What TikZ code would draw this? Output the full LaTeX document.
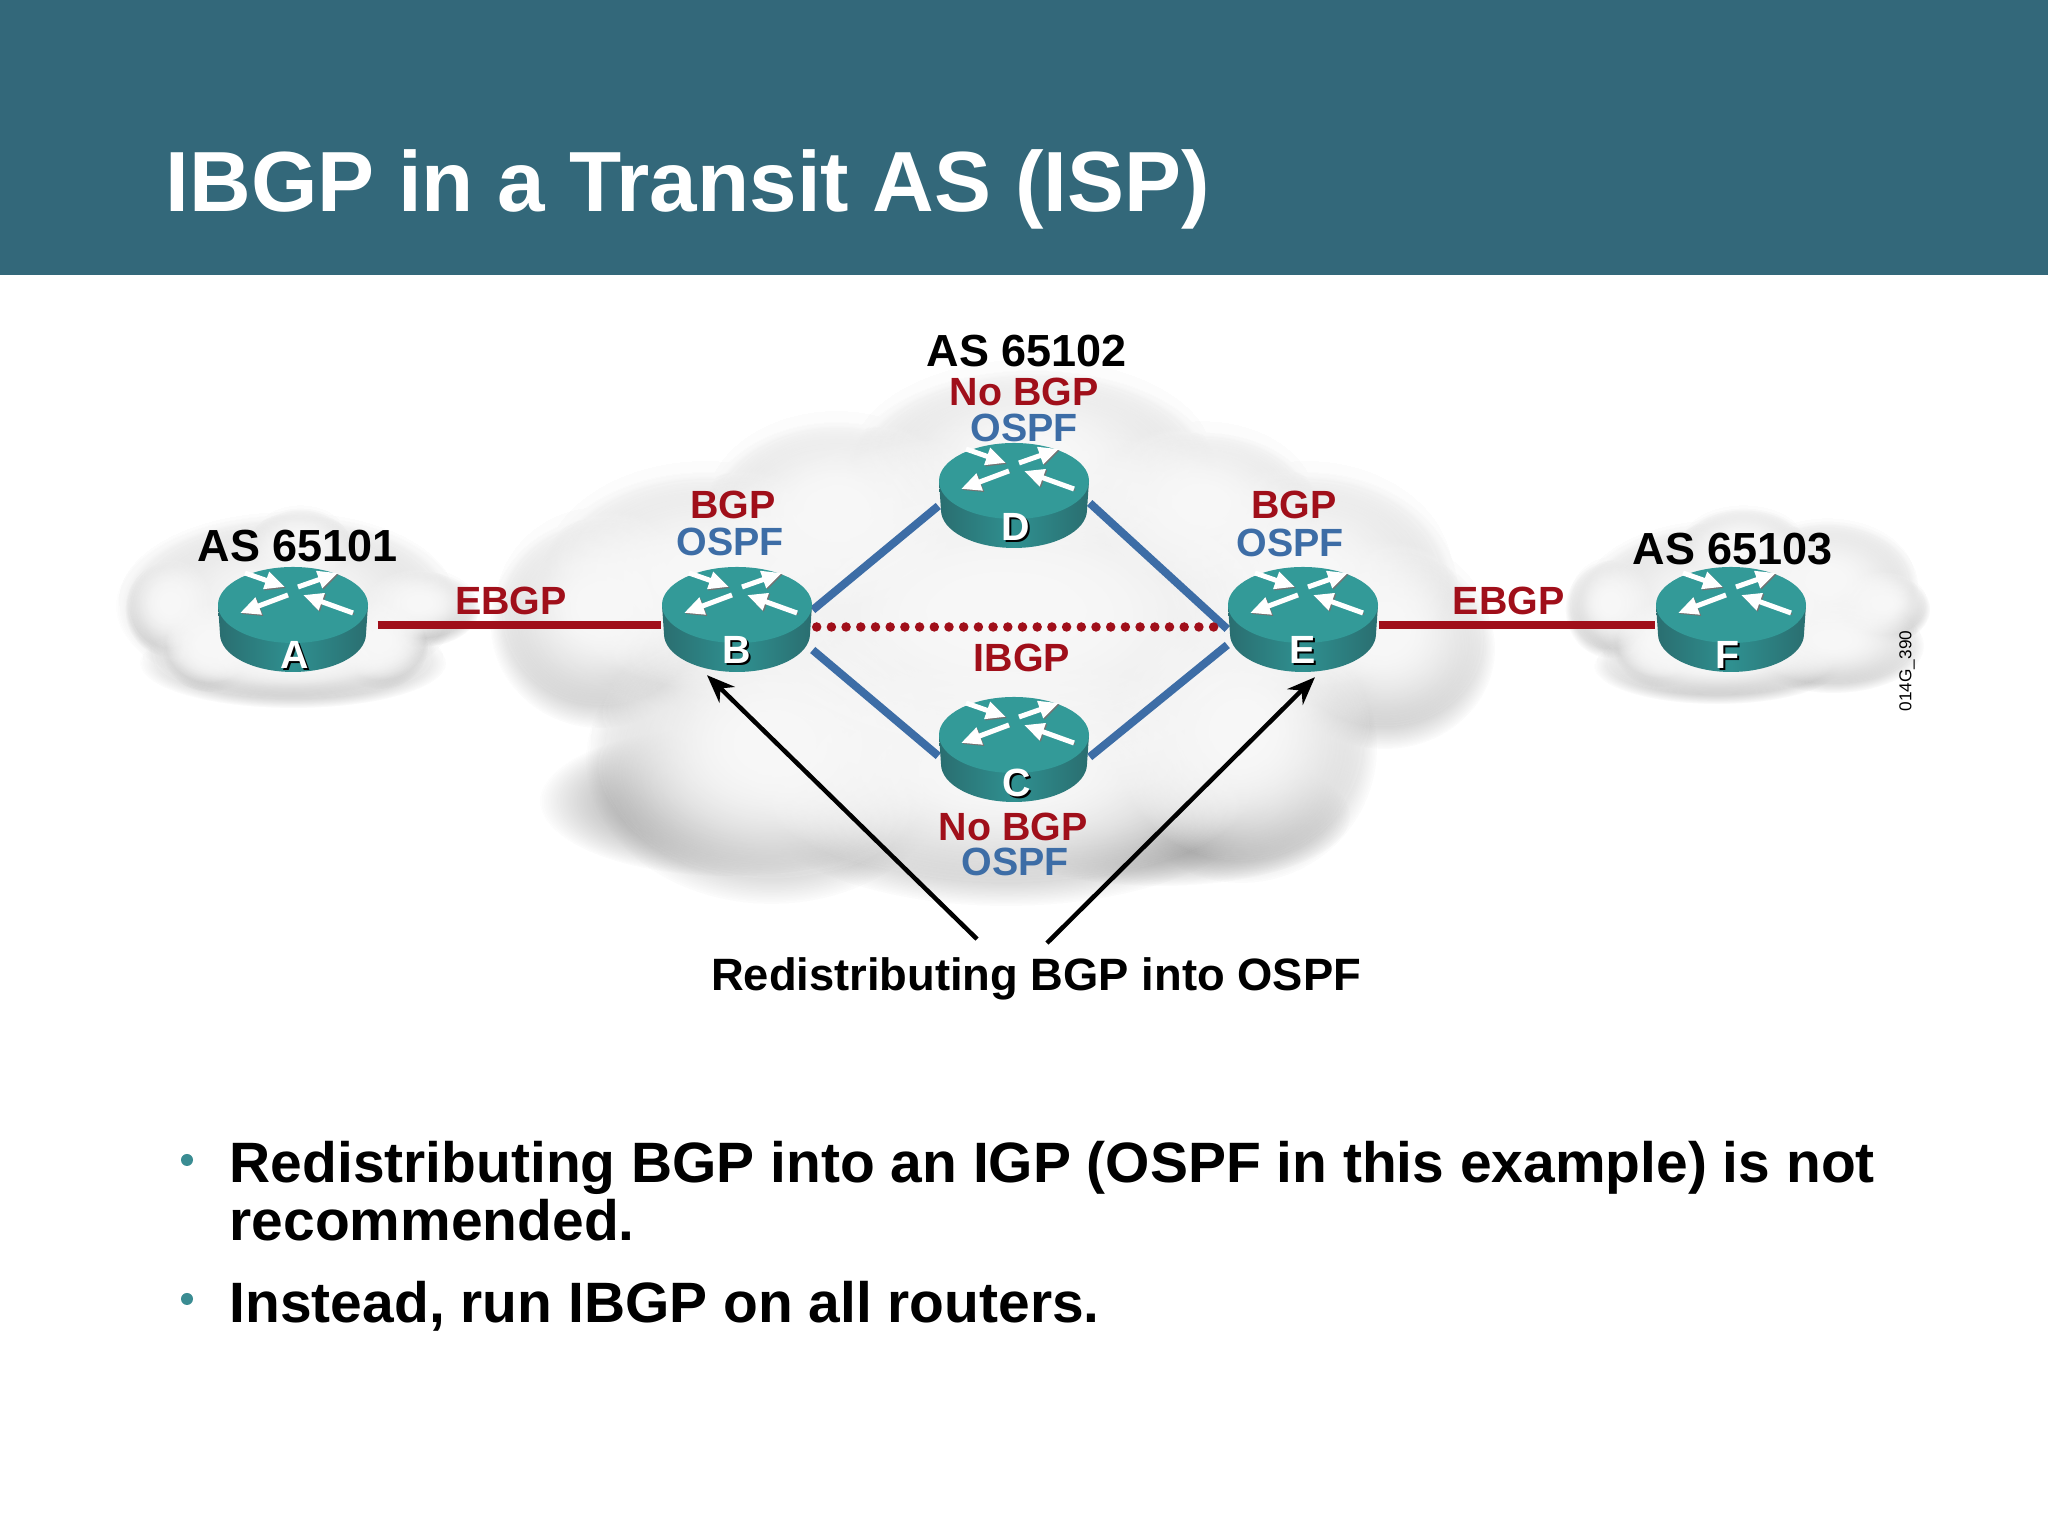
\documentclass[tikz,border=0pt]{standalone}
\usepackage{fontspec}
\setmainfont{Liberation Sans}
\usetikzlibrary{arrows.meta,positioning,fadings,backgrounds,calc}
\definecolor{bandteal}{HTML}{33687A}
\definecolor{bulletteal}{HTML}{3A8C92}
\definecolor{routertop}{HTML}{339A98}
\definecolor{routerside}{HTML}{2F9090}
\definecolor{routeredge}{HTML}{2A6E70}
\definecolor{bgpred}{HTML}{A00F1A}
\definecolor{ospfblue}{HTML}{3D6DA6}
\definecolor{cloudwhite}{HTML}{F8F8F8}
\tikzfading[name=softblob, inner color=transparent!0, outer color=transparent!100]
% x / y / x radius / y radius of the cloud puffs
\newcommand{\bigpuffs}{6.00/9.29/1.05/1.00, 7.05/9.61/1.63/1.14, 8.36/10.27/1.31/.98, 10.32/10.79/1.80/.98,
  12.02/10.33/1.14/.82, 13.06/9.61/1.47/1.14, 13.85/9.03/1.05/.95, 12.41/8.05/1.31/1.31,
  10.06/7.65/2.61/1.14, 7.71/7.92/1.80/1.39, 10.06/9.22/3.76/1.96}
\newcommand{\leftpuffs}{1.70/9.33/.42/.45, 3.00/9.93/.50/.38, 4.20/9.33/.56/.35, 3.80/8.96/.45/.40,
  2.93/8.79/1.50/.42, 2.10/8.93/.45/.40, 2.87/9.36/1.68/.88}
\newcommand{\rightpuffs}{16.10/9.33/.42/.46, 17.43/9.93/.62/.38, 18.83/9.33/.44/.32, 18.27/9.56/.88/.62,
  18.33/8.96/.88/.44, 17.17/8.76/1.20/.35, 16.60/8.96/.44/.38, 17.20/9.36/1.40/.80}
\newcommand{\router}[4]{%
  \pic at (#2) {routerpic};
  \node[routerbox] (#1) at (#2) {};
  \node[routerletter, text=black] (#1shadow) at ([shift={(.015,-.015)}]$(#1.center)+(#4)$) {#3};
  \node[routerletter] (#1letter) at ($(#1.center)+(#4)$) {#3};
}
\begin{document}
\begin{tikzpicture}[
  puff/.style={fill=cloudwhite, path fading=softblob},
  puffshadow/.style={fill=black!38, path fading=softblob},
  routerbox/.style={minimum width=1.5cm, minimum height=1.05cm, inner sep=0pt},
  routerletter/.style={font=\fontsize{11.2}{12}\selectfont\bfseries, text=white, inner sep=0pt},
  routerarrow/.style={white, line width=.05cm, -{Triangle[length=.2cm,width=.17cm]},
    preaction={draw=black!55, transform canvas={shift={(.012,-.012)}}}},
  routerpic/.pic={
    \shade[left color=routeredge, right color=routeredge, middle color=routerside]
      (-.75,.15) -- (-.73,-.14) arc[start angle=180, end angle=360, x radius=.73, y radius=.38]
      -- (.75,.15) -- cycle;
    \fill[routertop] (0,.15) ellipse (.75 and .38);
    \draw[routerarrow] (-.48,.47) -- (-.08,.33);
    \draw[routerarrow] (.05,.33) -- (.45,.47);
    \draw[routerarrow] (-.05,.25) -- (-.53,.07);
    \draw[routerarrow] (.60,.07) -- (.10,.25);
  },
  ebgp/.style={bgpred, line width=.085cm},
  ospflink/.style={ospfblue, line width=.08cm},
  ibgp/.style={bgpred, line width=.095cm, line cap=round, dash pattern=on 0pt off .147cm},
  redist/.style={-{Stealth[length=.28cm,width=.22cm]}, black, line width=.045cm},
  redlabel/.style={font=\fontsize{11.2}{12}\selectfont\bfseries, text=bgpred, inner sep=0pt},
  bluelabel/.style={font=\fontsize{11.2}{12}\selectfont\bfseries, text=ospfblue, inner sep=0pt},
  aslabel/.style={font=\fontsize{12.8}{14}\selectfont\bfseries, inner sep=0pt},
  bulletdot/.style={circle, fill=bulletteal, minimum size=.12cm, inner sep=0pt},
  bullettext/.style={font=\fontsize{16.2}{16.7}\selectfont\bfseries, anchor=base west, align=left, inner sep=0pt},
]
\useasboundingbox (0,0) rectangle (20.48,15.36);

% Clouds
\begin{scope}[on background layer]
\fill[white] (0,0) rectangle (20.48,15.36);
\foreach \n in {1,2} {
  \foreach \x/\y/\a/\b in \bigpuffs {\fill[puffshadow] (\x,\y-.16) ellipse [x radius=\a+.05, y radius=\b+.05];}
  \foreach \x/\y/\a/\b in \leftpuffs {\fill[puffshadow] (\x,\y-.06) ellipse [x radius=\a+.03, y radius=\b+.03];}
  \foreach \x/\y/\a/\b in \rightpuffs {\fill[puffshadow] (\x,\y-.06) ellipse [x radius=\a+.03, y radius=\b+.03];}
  \fill[puffshadow] (7.30,7.35) ellipse (1.90 and .75);
  \fill[puffshadow] (11.60,7.20) ellipse (1.90 and .70);
}
% repeated so that the puffs stay solid up to a soft rim
\foreach \n in {1,2,3} {
  \foreach \x/\y/\a/\b in \bigpuffs {\fill[puff] (\x,\y) ellipse [x radius=\a, y radius=\b];}
  \foreach \x/\y/\a/\b in \leftpuffs {\fill[puff] (\x,\y) ellipse [x radius=\a, y radius=\b];}
  \foreach \x/\y/\a/\b in \rightpuffs {\fill[puff] (\x,\y) ellipse [x radius=\a, y radius=\b];}
}
\end{scope}

% Title band
\fill[bandteal] (0,12.61) rectangle (20.48,15.36);
\node[font=\fontsize{24.3}{26}\selectfont\bfseries, text=white, anchor=base west, inner sep=0pt] (title)
  at (1.65,13.24) {IBGP in a Transit AS (ISP)};

% Routers
\router{A}{2.93,9.16}{A}{.02,-.35}
\router{B}{7.37,9.16}{B}{0,-.30}
\router{D}{10.14,10.40}{D}{.02,-.31}
\router{C}{10.14,7.86}{C}{.03,-.33}
\router{E}{13.03,9.16}{E}{0,-.30}
\router{F}{17.31,9.16}{F}{-.03,-.35}

% Links (behind the routers)
\begin{scope}[on background layer]
\draw[ebgp] ([shift={(.09,-.05)}]A.east) -- ([yshift=-.05cm]B.west)
  node[pos=.47, above=.06cm, redlabel] (ebgpleft) {EBGP};
\draw[ebgp] ([yshift=-.05cm]E.east) -- ([yshift=-.05cm]F.west)
  node[pos=.47, above=.06cm, redlabel] (ebgpright) {EBGP};
\draw[ospflink] ([yshift=.10cm]B.east) -- ([yshift=-.10cm]D.west);
\draw[ospflink] ([yshift=-.30cm]B.east) -- ([yshift=-.06cm]C.west);
\draw[ospflink] ([yshift=-.07cm]D.east) -- ([yshift=-.09cm]E.west);
\draw[ospflink] ([yshift=-.07cm]C.east) -- ([yshift=-.25cm]E.west);
\draw[ibgp] ([shift={(.04,-.07)}]B.east) -- ([yshift=-.07cm]E.west)
  node[midway, below=.12cm, redlabel] (ibgp) {IBGP};
\end{scope}

% AS names
\node[aslabel] (as1) at (2.98,9.90) {AS 65101};
\node[aslabel] (as2) at (10.27,11.85) {AS 65102};
\node[aslabel] (as3) at (17.33,9.87) {AS 65103};

% Protocols on each router
\node[redlabel] (nobgpD) at (10.24,11.44) {No BGP};
\node[bluelabel] (ospfD) at (10.24,11.08) {OSPF};
\node[redlabel] (bgpB) at (7.33,10.31) {BGP};
\node[bluelabel] (ospfB) at (7.30,9.94) {OSPF};
\node[redlabel] (bgpE) at (12.94,10.31) {BGP};
\node[bluelabel] (ospfE) at (12.90,9.93) {OSPF};
\node[redlabel] (nobgpC) at (10.13,7.09) {No BGP};
\node[bluelabel] (ospfC) at (10.15,6.74) {OSPF};

% Redistribution arrows
\node[font=\fontsize{12.9}{14}\selectfont\bfseries, inner sep=0pt] (redistlabel) at (10.36,5.57)
  {Redistributing BGP into OSPF};
\draw[redist] ([shift={(-.59,.18)}]redistlabel.north) -- ([shift={(-.30,-.02)}]B.south);
\draw[redist] ([shift={(.11,.14)}]redistlabel.north) -- ([shift={(.12,-.04)}]E.south);

% Figure code
\node[font=\fontsize{4.9}{5}\selectfont, rotate=90, inner sep=0pt] (figcode) at (19.07,8.65) {014G\_390};

% Bullets
\node[bulletdot] (dotone) at (1.87,3.76) {};
\node[bullettext] (textone) at (2.29,2.95) {Redistributing BGP into an IGP (OSPF in this example) is not\\recommended.};
\node[bulletdot] (dottwo) at (1.87,2.37) {};
\node[bullettext] (texttwo) at (2.29,2.13) {Instead, run IBGP on all routers.};
\end{tikzpicture}
\end{document}
